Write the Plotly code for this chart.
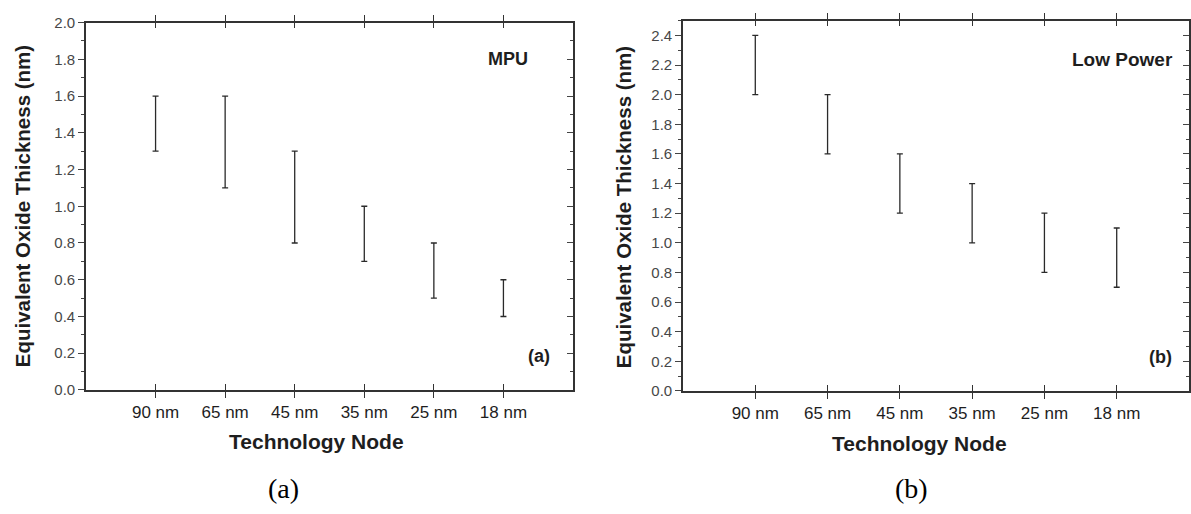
import numpy as np
import plotly.graph_objects as go

W, H = 1191, 514

nodes = ["90 nm", "65 nm", "45 nm", "35 nm", "25 nm", "18 nm"]
mpu_low = [1.3, 1.1, 0.8, 0.7, 0.5, 0.4]
mpu_high = [1.6, 1.6, 1.3, 1.0, 0.8, 0.6]
lp_low = [2.0, 1.6, 1.2, 1.0, 0.8, 0.7]
lp_high = [2.4, 2.0, 1.6, 1.4, 1.2, 1.1]

FONT = "Liberation Sans, Arial, sans-serif"
SERIF = "Liberation Serif, Times New Roman, serif"
INK = "#1e1e1e"

def px(x):
    return x / W

def py(y):
    return 1 - y / H

fig = go.Figure()

xpos = list(range(len(nodes)))

def add_bars(low, high, xa, ya):
    low = np.array(low)
    high = np.array(high)
    mid = (low + high) / 2
    half = (high - low) / 2
    fig.add_trace(go.Scatter(
        x=xpos, y=mid, xaxis=xa, yaxis=ya, mode="markers",
        marker=dict(size=1, opacity=0),
        error_y=dict(type="data", array=half, symmetric=True,
                     color="#2a2a2a", thickness=1.3, width=3),
        showlegend=False, hoverinfo="skip"))

add_bars(mpu_low, mpu_high, "x", "y")
add_bars(lp_low, lp_high, "x2", "y2")
# invisible traces for right-side tick axes
fig.add_trace(go.Scatter(x=[0], y=[0], xaxis="x", yaxis="y3", mode="markers",
                         marker=dict(opacity=0), showlegend=False, hoverinfo="skip"))
fig.add_trace(go.Scatter(x=[0], y=[0], xaxis="x2", yaxis="y4", mode="markers",
                         marker=dict(opacity=0), showlegend=False, hoverinfo="skip"))

def xaxis_cfg(domain, anchor):
    return dict(
        domain=domain, anchor=anchor, range=[-1, 6],
        tickmode="array", tickvals=xpos, ticktext=nodes,
        ticks="inside", ticklen=6, tickwidth=1.3, tickcolor="#333",
        showline=True, linecolor="#333", linewidth=1.6, mirror="allticks",
        showgrid=False, zeroline=False,
        tickfont=dict(family=FONT, size=17, color=INK),
        ticklabelstandoff=6,
    )

def yaxis_left(domain, anchor, rng):
    return dict(
        domain=domain, anchor=anchor, range=rng,
        tickmode="linear", tick0=0, dtick=0.2, tickformat=".1f",
        ticks="outside", ticklen=6, tickwidth=1.2, tickcolor="#444",
        minor=dict(ticks="outside", ticklen=3, dtick=0.1, tick0=0,
                   tickwidth=1.1, tickcolor="#444"),
        showline=True, linecolor="#333", linewidth=1.6,
        showgrid=False, zeroline=False,
        tickfont=dict(family=FONT, size=15, color="#474747"),
    )

def yaxis_right(domain, anchor, rng, overlay):
    return dict(
        domain=domain, anchor=anchor, range=rng, overlaying=overlay, side="right",
        tickmode="linear", tick0=0, dtick=0.2, showticklabels=False,
        ticks="inside", ticklen=6, tickwidth=1.2, tickcolor="#444",
        minor=dict(ticks="inside", ticklen=3, dtick=0.1, tick0=0,
                   tickwidth=1.1, tickcolor="#444"),
        showline=True, linecolor="#333", linewidth=1.6,
        showgrid=False, zeroline=False,
    )

dA_x = [px(86), px(573)]
dA_y = [py(394), py(14)]
dB_x = [px(683), px(1189)]
dB_y = [py(395), py(12)]

fig.update_layout(
    width=W, height=H,
    margin=dict(l=0, r=0, t=0, b=0),
    paper_bgcolor="white", plot_bgcolor="white",
    showlegend=False,
    xaxis=xaxis_cfg(dA_x, "y"),
    yaxis=yaxis_left(dA_y, "x", [0, 2.0]),
    yaxis3=yaxis_right(dA_y, "x", [0, 2.0], "y"),
    xaxis2=xaxis_cfg(dB_x, "y2"),
    yaxis2=yaxis_left(dB_y, "x2", [0, 2.5]),
    yaxis4=yaxis_right(dB_y, "x2", [0, 2.5], "y2"),
)

ann = []
def text(x, y, s, size, bold=True, family=FONT, angle=0, color=INK):
    ann.append(dict(x=px(x), y=py(y), xref="paper", yref="paper",
                    text=f"<b>{s}</b>" if bold else s, showarrow=False,
                    xanchor="center", yanchor="middle", textangle=angle,
                    font=dict(family=family, size=size, color=color)))

# axis titles
text(22, 204, "Equivalent Oxide Thickness (nm)", 20.5, angle=-90)
text(623, 205, "Equivalent Oxide Thickness (nm)", 20.5, angle=-90)
text(316, 447, "Technology Node", 21)
text(919, 449, "Technology Node", 21)
# in-plot labels
text(508, 52, "MPU", 18)
text(539, 359, "(a)", 18)
text(1122, 52, "Low Power", 19)
text(1160, 360, "(b)", 18)
# captions
text(283, 496, "(a)", 28, bold=False, family=SERIF, color="#000")
text(911, 496, "(b)", 28, bold=False, family=SERIF, color="#000")

fig.update_layout(annotations=ann)
fig.write_html("out.html")
